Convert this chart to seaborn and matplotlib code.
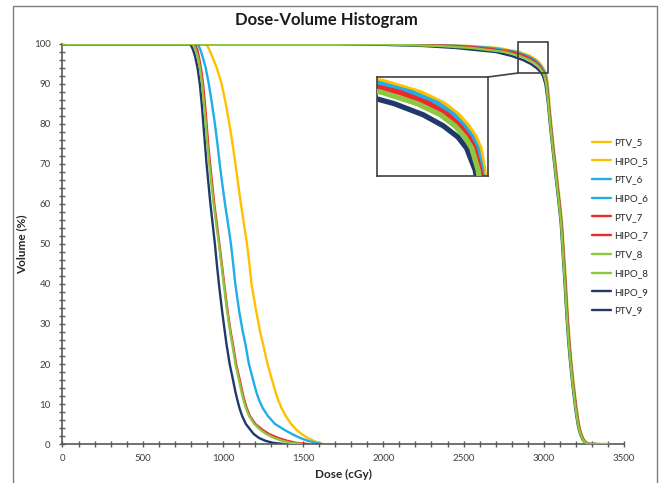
import numpy as np
import pandas as pd
import matplotlib
matplotlib.use("Agg")
import matplotlib.pyplot as plt
from matplotlib.patches import Rectangle, ConnectionPatch
from matplotlib.ticker import MultipleLocator
import seaborn as sns

sns.set_theme(style="ticks")
plt.rcParams['font.family'] = ['Lato', 'DejaVu Sans']

# legend order of the series
series_order = ["PTV_5", "HIPO_5", "PTV_6", "HIPO_6", "PTV_7", "HIPO_7",
                "PTV_8", "HIPO_8", "HIPO_9", "PTV_9"]
colors = {"5": "#FFC000", "6": "#1FAEE6", "7": "#F0282D", "8": "#8DC63F", "9": "#1F3A68"}

# HIPO curves (low dose): dose (cGy) at each volume level (%)
hipo_vol = [100, 100, 99.5, 98.5, 97, 94, 90, 85, 80, 75, 70, 65, 60, 55, 50, 45, 40, 33.5,
            28, 25, 20, 16, 13, 11, 9, 7, 5, 3.5, 2.5, 1.5, 0.8, 0.3, 0]
hipo_dose = {
    "9": [0, 795, 803, 814, 826, 842, 856, 868, 878, 888, 898, 910, 922, 936, 950, 962, 975, 994,
          1012, 1022, 1042, 1063, 1078, 1090, 1103, 1120, 1143, 1172, 1192, 1225, 1265, 1310, 1380],
    "8": [0, 812, 819, 830, 842, 857, 870, 882, 893, 903, 915, 928, 942, 958, 975, 990, 1005, 1025,
          1045, 1058, 1078, 1100, 1116, 1128, 1143, 1163, 1195, 1235, 1270, 1320, 1370, 1420, 1490],
    "7": [0, 822, 829, 840, 849, 863, 876, 888, 898, 908, 920, 933, 946, 962, 978, 993, 1008, 1028,
          1048, 1062, 1082, 1105, 1121, 1133, 1148, 1168, 1202, 1248, 1287, 1345, 1400, 1455, 1530],
    "6": [0, 842, 849, 860, 872, 893, 912, 932, 950, 966, 980, 996, 1013, 1032, 1050, 1064, 1077, 1100,
          1124, 1140, 1162, 1188, 1208, 1225, 1248, 1280, 1325, 1385, 1430, 1482, 1530, 1575, 1615],
    "5": [0, 895, 903, 916, 932, 962, 992, 1018, 1040, 1060, 1078, 1095, 1112, 1131, 1150, 1165, 1178, 1206,
          1232, 1250, 1278, 1306, 1328, 1344, 1365, 1392, 1425, 1460, 1490, 1530, 1565, 1598, 1620],
}

# PTV curves (high dose)
ptv_vol = [100, 100, 99.9, 99.5, 99, 98, 97, 96, 95, 94, 93, 92, 90, 87, 85, 80, 75, 70, 65, 60,
           55, 50, 45, 40, 35, 30, 25, 20, 15, 12, 9, 7, 5, 3.5, 2, 1, 0.4, 0, 0]
ptv_dose = {
    "9": [0, 1700, 1900, 2250, 2450, 2700, 2800, 2870, 2920, 2955, 2980, 2995, 3010, 3020, 3026,
          3038, 3051, 3065, 3079, 3093, 3106, 3114, 3122, 3130, 3137, 3145, 3154, 3165, 3178, 3187,
          3196, 3203, 3211, 3219, 3231, 3243, 3257, 3275, 3320],
    "8": [0, 1700, 2000, 2350, 2550, 2760, 2850, 2910, 2950, 2975, 2992, 3004, 3015, 3023, 3028,
          3040, 3053, 3067, 3081, 3095, 3108, 3116, 3124, 3132, 3139, 3147, 3156, 3167, 3180, 3189,
          3198, 3205, 3213, 3221, 3233, 3245, 3259, 3277, 3400],
    "7": [0, 1700, 2100, 2450, 2620, 2800, 2880, 2930, 2962, 2983, 2998, 3008, 3018, 3026, 3031,
          3043, 3056, 3070, 3084, 3098, 3111, 3119, 3127, 3135, 3142, 3150, 3159, 3170, 3183, 3192,
          3201, 3208, 3216, 3224, 3236, 3248, 3262, 3280, 3330],
    "6": [0, 1700, 2150, 2500, 2680, 2830, 2900, 2945, 2972, 2990, 3004, 3013, 3021, 3028, 3032,
          3044, 3057, 3071, 3085, 3099, 3112, 3120, 3128, 3136, 3143, 3151, 3160, 3171, 3184, 3193,
          3202, 3209, 3217, 3225, 3237, 3249, 3263, 3281, 3340],
    "5": [0, 1700, 2200, 2550, 2720, 2850, 2915, 2955, 2980, 2997, 3010, 3018, 3025, 3032, 3035,
          3047, 3060, 3074, 3088, 3102, 3115, 3123, 3131, 3139, 3146, 3154, 3163, 3174, 3187, 3196,
          3205, 3212, 3220, 3228, 3240, 3252, 3266, 3284, 3350],
}

frames = []
for k in hipo_dose:
    frames.append(pd.DataFrame({"dose": hipo_dose[k], "volume": hipo_vol, "series": "HIPO_" + k}))
    frames.append(pd.DataFrame({"dose": ptv_dose[k], "volume": ptv_vol, "series": "PTV_" + k}))
df = pd.concat(frames, ignore_index=True)
palette = {s: colors[s.split("_")[1]] for s in series_order}

W, H = 661, 483
fig = plt.figure(figsize=(W / 100, H / 100), dpi=100)
ax = fig.add_axes([62.5 / W, 1 - 444 / H, 561.5 / W, 400 / H])

sns.lineplot(data=df, x="dose", y="volume", hue="series", hue_order=series_order,
             palette=palette, sort=False, estimator=None, linewidth=1.7, ax=ax)
for line, name in zip(ax.get_lines(), series_order):
    if name.endswith("_8"):
        line.set_zorder(3)

ax.set_xlim(0, 3500)
ax.set_ylim(0, 100)
ax.xaxis.set_major_locator(MultipleLocator(500))
ax.xaxis.set_minor_locator(MultipleLocator(100))
ax.yaxis.set_major_locator(MultipleLocator(10))
ax.yaxis.set_minor_locator(MultipleLocator(2))
ax.tick_params(which="both", direction="inout", color="#595959", width=1)
ax.tick_params(which="major", length=5, labelsize=7, labelcolor="#404040")
ax.tick_params(which="minor", length=4)
ax.tick_params(axis="y", pad=6)
ax.tick_params(axis="x", pad=5)
sns.despine(ax=ax)
for sp in ["left", "bottom"]:
    ax.spines[sp].set_color("#595959")
    ax.spines[sp].set_linewidth(1.2)

ax.set_xlabel("Dose (cGy)", fontsize=8.5, fontweight="bold", color="#262626", labelpad=4)
ax.set_ylabel("Volume (%)", fontsize=8.5, fontweight="bold", color="#262626", labelpad=5)
fig.text(0.494, 1 - 20 / H, "Dose-Volume Histogram", ha="center", va="center",
         fontsize=12, fontweight="bold", color="#1a1a1a")

handles, labels = ax.get_legend_handles_labels()
ax.legend(handles, labels, loc="upper left", bbox_to_anchor=(592 / W, 1 - 138 / H),
          bbox_transform=fig.transFigure, frameon=False, fontsize=7, handlelength=2.0,
          handletextpad=0.25, labelspacing=1.0, borderpad=0, borderaxespad=0)

# zoom box and magnified inset
box_x0, box_x1, box_y0, box_y1 = 2840, 3027, 92.75, 100.5
ax.add_patch(Rectangle((box_x0, box_y0), box_x1 - box_x0, box_y1 - box_y0, fill=False,
                       edgecolor="#404040", linewidth=1.2, clip_on=False, zorder=5))
axin = fig.add_axes([377 / W, 1 - 176 / H, 111 / W, 99 / H])
sns.lineplot(data=df, x="dose", y="volume", hue="series", hue_order=series_order,
             palette=palette, sort=False, estimator=None, linewidth=3.8, legend=False, ax=axin)
for line, name in zip(axin.get_lines(), series_order):
    if name.endswith("_8"):
        line.set_zorder(3)
axin.set_xlim(2840, 3032)
axin.set_ylim(89.5, 98.4)
axin.set_xticks([])
axin.set_yticks([])
axin.set_xlabel("")
axin.set_ylabel("")
for sp in axin.spines.values():
    sp.set_color("#404040")
    sp.set_linewidth(1.2)
con = ConnectionPatch(xyA=(1, 1), coordsA=axin.transAxes, xyB=(box_x0, box_y0),
                      coordsB=ax.transData, color="#404040", linewidth=1.2)
fig.add_artist(con)

# chart-area border
fig.add_artist(Rectangle((13 / W, -0.02), 644 / W, 1.02 - 6 / H, transform=fig.transFigure,
                         fill=False, edgecolor="#7f7f7f", linewidth=1))

fig.savefig("out.png", dpi=100)
